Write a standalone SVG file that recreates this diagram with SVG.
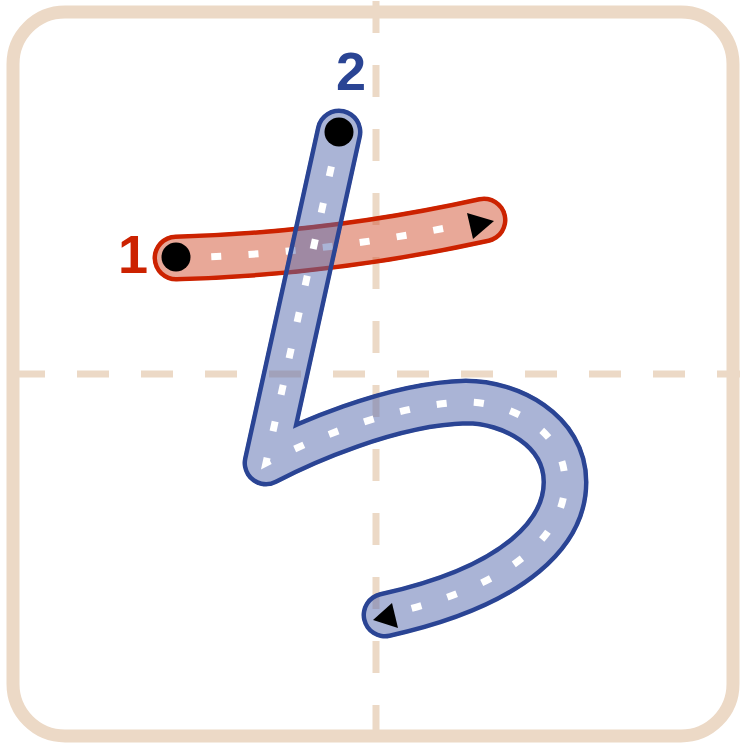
<svg xmlns="http://www.w3.org/2000/svg" xmlns:xlink="http://www.w3.org/1999/xlink" width="740" height="744" viewBox="0 0 740 744">
<style>
.guide{stroke:#ecd9c6;stroke-width:7;stroke-dasharray:32 32;fill:none}
.frame{fill:none;stroke:#ecd9c6;stroke-width:13}
.cl{fill:none;stroke-linecap:round;stroke-linejoin:round}
.dash{fill:none;stroke:#fff;stroke-width:7;stroke-dasharray:10 27.3}
.num{font-family:"Liberation Sans",Arial,sans-serif;font-weight:bold;font-size:54px;text-anchor:middle}
</style>
<defs>
<path id="p1" d="M176,258 Q330,254 484,220"/>
<path id="p2" d="M339,132 L266,463 C300,445 390,404 466,402 C510,402 565,430 565,482 C565,530 520,585 385,615"/>
<mask id="m1" maskUnits="userSpaceOnUse" x="0" y="0" width="740" height="744">
<use xlink:href="#p1" class="cl" stroke="#fff" stroke-width="47"/>
<use xlink:href="#p1" class="cl" stroke="#000" stroke-width="38"/>
</mask>
<mask id="m2" maskUnits="userSpaceOnUse" x="0" y="0" width="740" height="744">
<use xlink:href="#p2" class="cl" stroke="#fff" stroke-width="47"/>
<use xlink:href="#p2" class="cl" stroke="#000" stroke-width="38"/>
</mask>
</defs>
<rect width="740" height="744" fill="#fff"/>
<g id="guides">
<line class="guide" x1="376" y1="1" x2="376" y2="744"/>
<line class="guide" x1="13" y1="374" x2="740" y2="374"/>
<rect class="frame" x="13" y="12" width="720" height="724" rx="52"/>
</g>
<g id="stroke1">
<use xlink:href="#p1" class="cl" stroke="#d15131" stroke-opacity="0.5" stroke-width="40"/>
<use xlink:href="#p1" class="cl" stroke="#cc2200" stroke-width="48" mask="url(#m1)"/>
<use xlink:href="#p1" class="dash" stroke-dashoffset="2"/>
<circle cx="176" cy="257" r="14.5" fill="#000"/>
<polygon points="467,213 494,221 473,239" fill="#000"/>
<text class="num" x="133" y="273" fill="#cc2200">1</text>
</g>
<g id="stroke2">
<use xlink:href="#p2" class="cl" stroke="#5569ad" stroke-opacity="0.5" stroke-width="40"/>
<use xlink:href="#p2" class="cl" stroke="#2a4494" stroke-width="48" mask="url(#m2)"/>
<use xlink:href="#p2" class="dash" stroke-dashoffset="2"/>
<circle cx="339" cy="132" r="14.5" fill="#000"/>
<polygon points="392,603 373,620 398,628" fill="#000"/>
<text class="num" x="351" y="90" fill="#2a4494">2</text>
</g>
</svg>
